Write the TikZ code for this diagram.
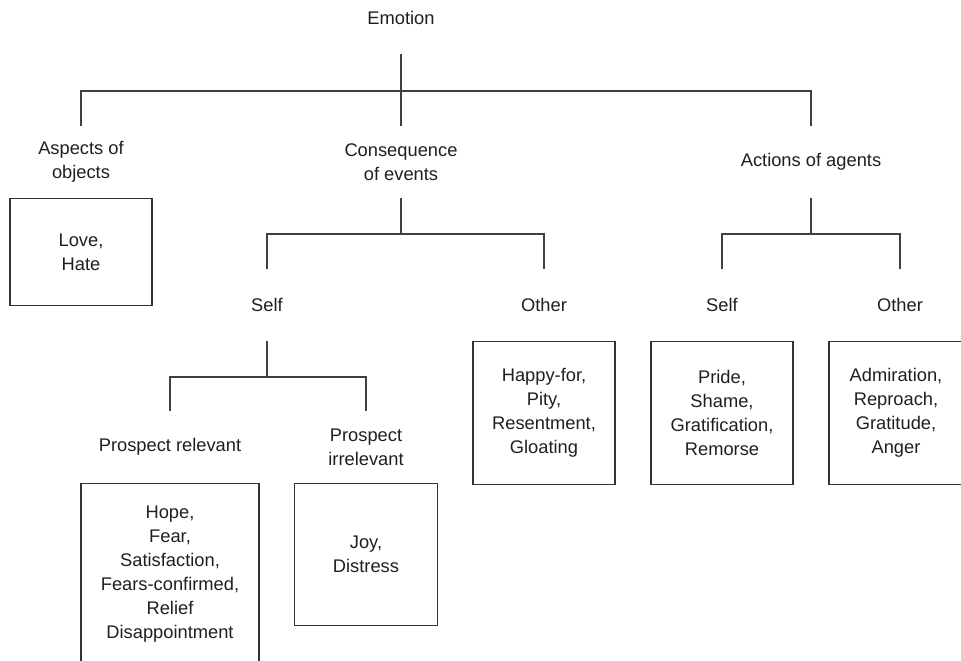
\documentclass[tikz,border=0pt]{standalone}
\usepackage{fontspec}
\setmainfont{Liberation Sans}

\tikzset{
  tag/.style={align=center, minimum height=71pt, inner sep=0pt,
    text=black!88, font=\fontsize{18.3}{24}\selectfont},
  leaf/.style={draw=black!80, line width=1.2pt, align=center, inner sep=0pt,
    minimum width=142pt, anchor=north, text=black!88,
    font=\fontsize{18.3}{24}\selectfont},
  branch/.style={line width=1.2pt, black!75},
}

\begin{document}
\begin{tikzpicture}[x=1pt, y=-1pt]
    \useasboundingbox (0,0) rectangle (961,661);
    % labels of the tree
    \node [tag] (Emotion)    at (401,18)  {Emotion};
    \node [tag] (Aspects)    at (81,162)  {Aspects of\\objects};
    \node [tag] (Events)     at (401,162) {Consequence\\of events};
    \node [tag] (Agents)     at (811,162) {Actions of agents};
    \node [tag] (EvSelf)     at (267,305) {Self};
    \node [tag] (EvOther)    at (544,305) {Other};
    \node [tag] (AgSelf)     at (722,305) {Self};
    \node [tag] (AgOther)    at (900,305) {Other};
    \node [tag] (Relevant)   at (170,447) {Prospect relevant};
    \node [tag] (Irrelevant) at (366,447) {Prospect\\irrelevant};
    % boxes of emotions (the last ones run off the page)
    \node [leaf, minimum height=107pt] (LoveBox) at (Aspects.south) {Love,\\Hate};
    \node [leaf, minimum height=143pt] (HappyBox) at (EvOther.south) {Happy-for,\\Pity,\\Resentment,\\Gloating};
    \node [leaf, minimum height=143pt] (PrideBox) at (AgSelf.south) {Pride,\\Shame,\\Gratification,\\Remorse};
    \node [leaf, minimum height=143pt, minimum width=134pt] (AdmireBox) at ([xshift=-4pt]AgOther.south) {Admiration,\\Reproach,\\Gratitude,\\Anger};
    \node [leaf, minimum height=181pt, minimum width=178pt] (HopeBox) at (Relevant.south) {Hope,\\Fear,\\Satisfaction,\\Fears-confirmed,\\Relief\\Disappointment};
    \node [leaf, minimum height=142pt, minimum width=143pt] (JoyBox) at (Irrelevant.south) {Joy,\\Distress};
    % forks
    \coordinate (EmoFork)  at (401,91);
    \coordinate (EvFork)   at (401,234);
    \coordinate (AgFork)   at (811,234);
    \coordinate (SelfFork) at (267,377);
    \draw [branch] (Emotion.south) -- (Events.north);% Draw trunk
    \draw [branch] (Aspects.north) |- (EmoFork) -| (Agents.north);
    \draw [branch] (Events.south) -- (EvFork);
    \draw [branch] (EvSelf.north) |- (EvFork) -| (EvOther.north);
    \draw [branch] (Agents.south) -- (AgFork);
    \draw [branch] (AgSelf.north) |- (AgFork) -| (AgOther.north);
    \draw [branch] (EvSelf.south) -- (SelfFork);
    \draw [branch] (Relevant.north) |- (SelfFork) -| (Irrelevant.north);
\end{tikzpicture}
\end{document}
